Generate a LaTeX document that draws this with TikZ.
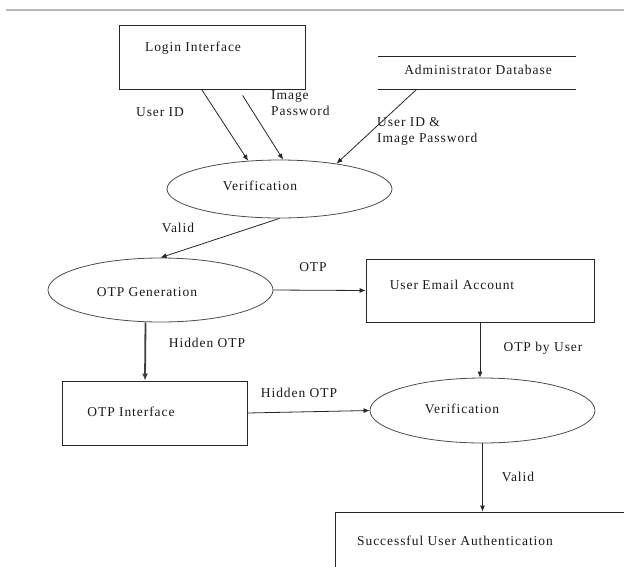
\documentclass[tikz,border=0pt]{standalone}
\usepackage{fontspec}
\setmainfont{Liberation Serif}[LetterSpace=7]
\usetikzlibrary{shapes.geometric,arrows.meta,calc}
\begin{document}
\begin{tikzpicture}[x=1pt,y=-1pt,
  box/.style={draw=black!85,line width=0.8pt,rectangle,inner sep=0pt},
  proc/.style={draw=black!70,line width=0.8pt,ellipse,inner sep=0pt,minimum width=225pt},
  txt/.style={font=\fontsize{13.5}{16}\selectfont,inner sep=0pt,text=black!90},
  flow/.style={draw=black!85,line width=0.8pt,-{Latex[length=6pt,width=5pt]}},
  thickflow/.style={draw=black!75,line width=1.8pt,-{Latex[length=7pt,width=6pt]}}]
\useasboundingbox (0,0) rectangle (624,566);
\clip (0,0) rectangle (624,566);
\draw[gray!55,line width=2pt] (6,10) -- (624,10);

% nodes
\node[box,minimum width=186pt,minimum height=64pt] (login) at (212,57) {};
\node[txt] (loginT) at (193,48) {Login Interface};
\node[inner sep=0pt,minimum width=198pt,minimum height=32pt] (admin) at (477,73) {};
\draw[black!85,line width=0.8pt] (admin.north west) -- (admin.north east);
\draw[black!85,line width=0.8pt] (admin.south west) -- (admin.south east);
\node[txt] (adminT) at (478,70) {Administrator Database};
\node[proc,minimum height=58pt] (ver1) at (279.5,189) {};
\node[txt] (ver1T) at (260,186) {Verification};
\node[proc,minimum height=64pt] (gen) at (160.5,290) {};
\node[txt] (genT) at (147,292) {OTP Generation};
\node[box,minimum width=228pt,minimum height=63pt] (email) at (480,290.5) {};
\node[txt] (emailT) at (452,285) {User Email Account};
\node[box,minimum width=185pt,minimum height=64pt] (otpint) at (154.5,413) {};
\node[txt] (otpintT) at (131,412) {OTP Interface};
\node[proc,minimum height=65pt] (ver2) at (482.5,410.5) {};
\node[txt] (ver2T) at (462,409) {Verification};
\node[box,minimum width=300pt,minimum height=70pt] (succ) at (485,547) {};
\node[txt] (succT) at (455,541) {Successful User Authentication};

% labels
\node[txt] (lUserID) at (160,112) {User ID};
\node[txt,align=left,anchor=west] (lImgPw) at (271,103.5) {Image\\Password};
\node[txt,align=left,anchor=west] (lAdm) at (377,131) {User ID \&\\Image Password};
\node[txt] (lValid1) at (178,228) {Valid};
\node[txt] (lOTP) at (313,267) {OTP};
\node[txt] (lHidden1) at (207,343) {Hidden OTP};
\node[txt] (lByUser) at (543,348) {OTP by User};
\node[txt] (lHidden2) at (299,393) {Hidden OTP};
\node[txt] (lValid2) at (518,477) {Valid};

% connectors
\draw[flow] ($(login.south west)+(83,0)$) -- (ver1.138);
\draw[flow] ($(login.south west)+(124,6)$) -- (ver1.83);
\draw[flow] ($(admin.south west)+(39,0)$) -- (ver1.24);
\draw[flow] (ver1.south) -- (gen.north);
\draw[flow] (gen.east) -- (email.west);
\draw[thickflow] ($(gen.south)+(-15,0)$) -- ($(otpint.north)+(-9.5,0)$);
\draw[flow] (email.south) -- (email.south |- ver2.north);
\draw[flow] (otpint.east) -- (ver2.west);
\draw[flow] (ver2.south) -- (ver2.south |- succ.north);
\end{tikzpicture}
\end{document}
